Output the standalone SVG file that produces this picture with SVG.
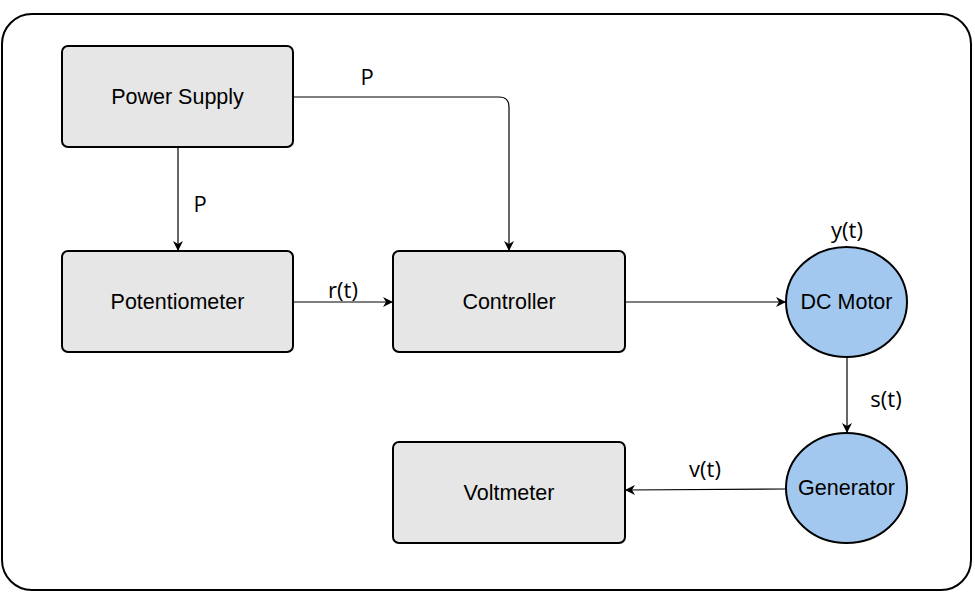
<svg xmlns="http://www.w3.org/2000/svg" width="975" height="593" viewBox="0 0 975 593">
<defs>
<style>
.box{fill:#e6e6e6;stroke:#000;stroke-width:2}
.circ{fill:#a3c8f0;stroke:#000;stroke-width:2}
.nt{font-family:"Liberation Sans",Arial,sans-serif;font-size:21.5px;fill:#000;text-anchor:middle}
.lt{font-family:"Open Sans","Noto Sans",sans-serif;font-size:22px;fill:#000;text-anchor:middle}
.edge{fill:none;stroke:#000;stroke-width:1.2}
</style>
<marker id="arr" viewBox="0 0 10 10" refX="9" refY="5" markerWidth="10" markerHeight="10" markerUnits="userSpaceOnUse" orient="auto">
<path d="M0,0 L10,5 L0,10 L3,5 Z" fill="#000"/>
</marker>
</defs>
<rect x="0" y="0" width="975" height="593" fill="#fff"/>
<rect id="frame" x="2" y="14" width="969" height="576" rx="30" ry="30" fill="#fff" stroke="#000" stroke-width="2"/>
<g id="connectors">
<path class="edge" d="M178,147 L178,250" marker-end="url(#arr)"/>
<path class="edge" d="M293,97 L499,97 Q509,97 509,107 L509,250" marker-end="url(#arr)"/>
<path class="edge" d="M293,302 L392,302" marker-end="url(#arr)"/>
<path class="edge" d="M625,302 L785,302" marker-end="url(#arr)"/>
<path class="edge" d="M847,357 L847,432" marker-end="url(#arr)"/>
<path class="edge" d="M786,489 L626,490" marker-end="url(#arr)"/>
<text class="lt" x="200" y="212">P</text>
<text class="lt" x="367" y="85">P</text>
<text class="lt" x="343" y="298">r(t)</text>
<text class="lt" x="847" y="238">y(t)</text>
<text class="lt" x="886" y="407">s(t)</text>
<text class="lt" x="705" y="477">v(t)</text>
</g>
<g id="power-supply">
<rect class="box" x="62" y="46" width="231" height="101" rx="6"/>
<text class="nt" x="177.5" y="104">Power Supply</text>
</g>
<g id="potentiometer">
<rect class="box" x="62" y="251" width="231" height="101" rx="6"/>
<text class="nt" x="177.5" y="309">Potentiometer</text>
</g>
<g id="controller">
<rect class="box" x="393" y="251" width="232" height="101" rx="6"/>
<text class="nt" x="509" y="309">Controller</text>
</g>
<g id="voltmeter">
<rect class="box" x="393" y="442" width="232" height="101" rx="6"/>
<text class="nt" x="509" y="500">Voltmeter</text>
</g>
<g id="dc-motor">
<ellipse class="circ" cx="846.5" cy="302" rx="60.5" ry="55"/>
<text class="nt" x="846.5" y="309">DC Motor</text>
</g>
<g id="generator">
<ellipse class="circ" cx="846.5" cy="488" rx="60.5" ry="55"/>
<text class="nt" x="846.5" y="495">Generator</text>
</g>
</svg>
